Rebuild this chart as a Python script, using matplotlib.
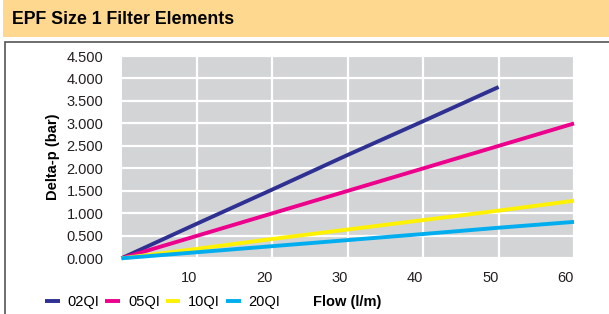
import matplotlib
matplotlib.use("Agg")
import matplotlib.pyplot as plt
from matplotlib.patches import Rectangle

plt.rcParams["font.family"] = ["Liberation Sans", "DejaVu Sans"]

W, H = 609, 314

flow = [0, 10, 20, 30, 40, 50, 60]
series_names = ["02QI", "05QI", "10QI", "20QI"]
dp_02qi = [0.0, 0.77, 1.53, 2.30, 3.05, 3.81]
dp_05qi = [0.0, 0.50, 1.00, 1.50, 2.00, 2.50, 3.00]
dp_10qi = [0.0, 0.21, 0.43, 0.64, 0.85, 1.06, 1.28]
dp_20qi = [0.0, 0.135, 0.27, 0.405, 0.54, 0.68, 0.81]
y_ticks = [0, 0.5, 1.0, 1.5, 2.0, 2.5, 3.0, 3.5, 4.0, 4.5]
x_ticks = [10, 20, 30, 40, 50, 60]

colors = ["#2E3192", "#EC008C", "#FFF200", "#00AEEF"]

fig = plt.figure(figsize=(W / 100, H / 100), dpi=100)

# header band and frame
fig.patches.append(Rectangle((3 / W, 1 - 37 / H), (W - 3) / W, 37 / H,
                             transform=fig.transFigure, facecolor="#FED88F",
                             edgecolor="none", zorder=0))
fig.patches.append(Rectangle((5 / W, -0.05), 1.0, (H - 41.5) / H + 0.05,
                             transform=fig.transFigure, facecolor="none",
                             edgecolor="#555555", lw=1.2, zorder=0))
fig.text(12 / W, 1 - 19 / H, "EPF Size 1 Filter Elements", fontsize=12.8,
         fontweight="bold", va="center", ha="left")

left, right, top, bottom = 121.5, 574, 56, 258.3
ax = fig.add_axes([left / W, (H - bottom) / H, (right - left) / W, (bottom - top) / H])
ax.set_facecolor("#D3D4D6")
for s in ax.spines.values():
    s.set_visible(False)
ax.set_xlim(0, 60)
ax.set_ylim(0, 4.5)
ax.set_xticks(x_ticks)
ax.set_yticks(y_ticks)
ax.set_xticklabels([str(v) for v in x_ticks], ha="right")
ax.set_yticklabels([f"{v:.3f}" for v in y_ticks])
ax.tick_params(length=0, labelsize=10.5, colors="#231F20")
ax.tick_params(axis="y", pad=13)
ax.tick_params(axis="x", pad=9)
ax.grid(True, color="white", lw=1.6)
ax.set_axisbelow(True)

all_series = [dp_02qi, dp_05qi, dp_10qi, dp_20qi]
for name, vals, c in zip(series_names, all_series, colors):
    ax.plot(flow[:len(vals)], vals, color=c, lw=2.8, label=name,
            solid_capstyle="butt", clip_on=False)

ax.set_ylabel("Delta-p (bar)", fontsize=10.5, fontweight="bold")
ax.yaxis.set_label_coords(-62 / (right - left), 0.5)

handles, labels = ax.get_legend_handles_labels()
fig.legend(handles, labels, loc="center left", bbox_to_anchor=(45 / W, 1 - 302 / H),
           ncol=4, frameon=False, fontsize=10.5, handlelength=1.0,
           handletextpad=0.55, columnspacing=0.4, borderaxespad=0, borderpad=0)
fig.text(313 / W, 1 - 302 / H, "Flow (l/m)", fontsize=10.5, fontweight="bold",
         va="center", ha="left")

fig.savefig("out.png", dpi=100)
